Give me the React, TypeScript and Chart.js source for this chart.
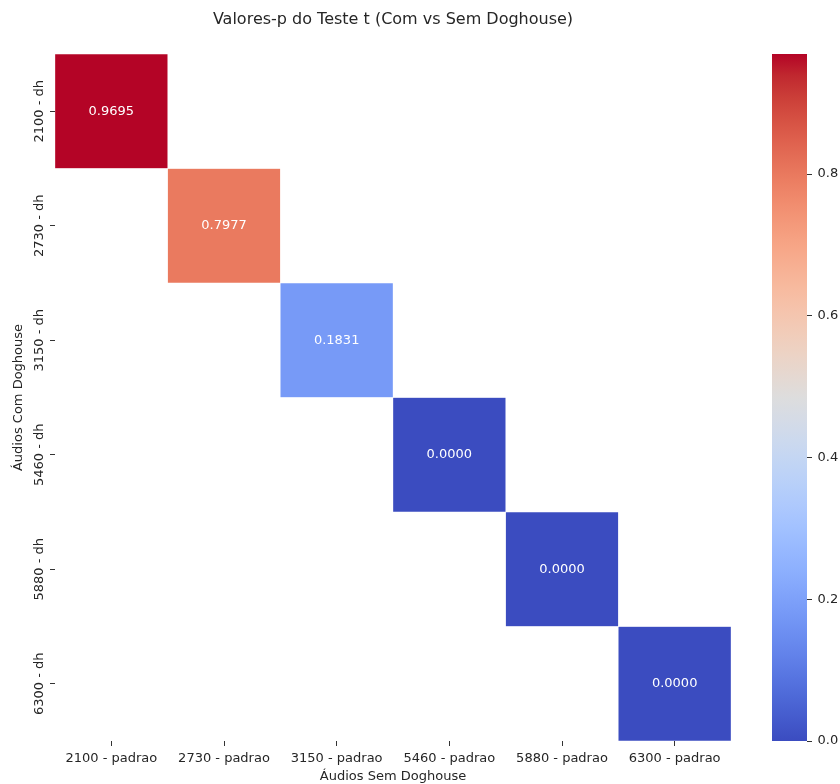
import React, { useEffect, useRef } from 'react';
import { Chart, registerables } from 'chart.js';

Chart.register(...registerables);

// Column categories (audio without doghouse) and row categories (audio with doghouse)
const xLabels = ['2100 - padrao', '2730 - padrao', '3150 - padrao', '5460 - padrao', '5880 - padrao', '6300 - padrao'];
const yLabels = ['2100 - dh', '2730 - dh', '3150 - dh', '5460 - dh', '5880 - dh', '6300 - dh'];

// t-test p-values, one row per "com doghouse" audio; null = pair not compared
const pMatrix: (number | null)[][] = [
  [0.9695, null, null, null, null, null],
  [null, 0.7977, null, null, null, null],
  [null, null, 0.1831, null, null, null],
  [null, null, null, 0.0, null, null],
  [null, null, null, null, 0.0, null],
  [null, null, null, null, null, 0.0],
];

const colorbarTicks = [0, 0.2, 0.4, 0.6, 0.8];

const allValues = pMatrix.flat().filter((v): v is number => v !== null);
const vMin = Math.min(...allValues);
const vMax = Math.max(...allValues);

const FONT = 'DejaVu Sans';
const TEXT = '#262626';

// coolwarm colormap control points: [t, r, g, b]
const COOLWARM: number[][] = [
  [0.0, 59, 76, 192], [0.03125, 68, 90, 204], [0.0625, 77, 104, 215], [0.09375, 87, 117, 225],
  [0.125, 98, 130, 234], [0.15625, 108, 142, 241], [0.1875, 119, 154, 247], [0.21875, 130, 165, 251],
  [0.25, 141, 176, 254], [0.28125, 152, 185, 255], [0.3125, 163, 194, 255], [0.34375, 174, 201, 253],
  [0.375, 184, 208, 249], [0.40625, 194, 213, 244], [0.4375, 204, 217, 238], [0.46875, 213, 219, 230],
  [0.5, 221, 221, 221], [0.53125, 229, 216, 209], [0.5625, 236, 211, 197], [0.59375, 241, 204, 185],
  [0.625, 245, 196, 173], [0.65625, 247, 187, 160], [0.6875, 247, 177, 148], [0.71875, 247, 166, 135],
  [0.75, 244, 154, 123], [0.78125, 241, 141, 111], [0.8125, 236, 127, 99], [0.84375, 229, 112, 88],
  [0.875, 222, 96, 77], [0.90625, 213, 80, 66], [0.9375, 203, 62, 56], [0.96875, 192, 40, 47],
  [1.0, 180, 4, 38],
];

function coolwarm(t: number): string {
  const x = Math.max(0, Math.min(1, t));
  for (let i = 1; i < COOLWARM.length; i++) {
    const a = COOLWARM[i - 1];
    const b = COOLWARM[i];
    if (x <= b[0]) {
      const f = (x - a[0]) / (b[0] - a[0]);
      const c = [1, 2, 3].map((k) => Math.round(a[k] + (b[k] - a[k]) * f));
      return `rgb(${c[0]},${c[1]},${c[2]})`;
    }
  }
  return 'rgb(180,4,38)';
}

const norm = (v: number) => (v - vMin) / (vMax - vMin);

// Rotated row labels beside the left axis ticks, plus the value printed in each cell
const heatmapTextPlugin = {
  id: 'heatmapText',
  afterDraw(chart: any) {
    const { ctx } = chart;
    const yScale = chart.scales.y;
    ctx.save();
    ctx.fillStyle = TEXT;
    ctx.font = `13px "${FONT}"`;
    ctx.textAlign = 'center';
    ctx.textBaseline = 'alphabetic';
    yScale.ticks.forEach((tick: any, i: number) => {
      const py = yScale.getPixelForValue(tick.value);
      ctx.save();
      ctx.translate(yScale.right - 12, py);
      ctx.rotate(-Math.PI / 2);
      ctx.fillText(yLabels[i], 0, 0);
      ctx.restore();
    });

    ctx.fillStyle = '#ffffff';
    ctx.textBaseline = 'middle';
    chart.data.datasets.forEach((ds: any, di: number) => {
      const meta = chart.getDatasetMeta(di);
      meta.data.forEach((bar: any, ci: number) => {
        const v = pMatrix[di][ci];
        if (v === null) return;
        const { x, y } = bar.getCenterPoint();
        ctx.fillText(v.toFixed(4), x, y);
      });
    });
    ctx.restore();
  },
};

// Gradient strip painted through the colorbar's value axis
const colorbarPlugin = {
  id: 'colorbarFill',
  beforeDatasetsDraw(chart: any) {
    const { ctx, chartArea } = chart;
    const s = chart.scales.y;
    const y0 = s.getPixelForValue(vMin);
    const y1 = s.getPixelForValue(vMax);
    const grad = ctx.createLinearGradient(0, y0, 0, y1);
    COOLWARM.forEach((c) => grad.addColorStop(c[0], `rgb(${c[1]},${c[2]},${c[3]})`));
    ctx.save();
    ctx.fillStyle = grad;
    ctx.fillRect(chartArea.left, y1, chartArea.right - chartArea.left, y0 - y1);
    ctx.restore();
  },
};

export default function App() {
  const heatRef = useRef<HTMLCanvasElement>(null);
  const barRef = useRef<HTMLCanvasElement>(null);

  useEffect(() => {
    const tickColor = '#333333';

    const datasets = pMatrix.map((row, r) => ({
      label: yLabels[r],
      data: row.map((v) => (v === null ? null : [r, r + 1])) as any,
      backgroundColor: row.map((v) => (v === null ? 'rgba(0,0,0,0)' : coolwarm(norm(v)))),
      borderColor: '#ffffff',
      borderWidth: 0.5,
      borderSkipped: false as const,
      grouped: false,
      categoryPercentage: 1,
      barPercentage: 1,
    }));

    const heat = new Chart(heatRef.current!, {
      type: 'bar',
      data: { labels: xLabels, datasets },
      plugins: [heatmapTextPlugin],
      options: {
        responsive: false,
        animation: false,
        devicePixelRatio: 1,
        layout: { padding: 0 },
        font: { family: FONT },
        plugins: {
          legend: { display: false },
          tooltip: { enabled: false },
          title: {
            display: true,
            text: 'Valores-p do Teste t (Com vs Sem Doghouse)',
            color: TEXT,
            font: { family: FONT, size: 16, weight: 'normal' },
            padding: { top: 10.5, bottom: 24.3 },
          },
        },
        scales: {
          x: {
            type: 'category',
            offset: true,
            grid: { display: true, drawOnChartArea: false, drawTicks: true, tickLength: 5, color: tickColor, offset: false },
            border: { display: false },
            ticks: { color: TEXT, font: { family: FONT, size: 13 }, padding: 4.5, maxRotation: 0, autoSkip: false },
            title: {
              display: true,
              text: 'Áudios Sem Doghouse',
              color: TEXT,
              font: { family: FONT, size: 13 },
              padding: { top: 0, bottom: -0.5 },
            },
            afterFit: (s: any) => { s.height = 43; },
          },
          y: {
            type: 'linear',
            position: 'left',
            reverse: true,
            min: 0,
            max: yLabels.length,
            afterBuildTicks: (s: any) => { s.ticks = yLabels.map((_, i) => ({ value: i + 0.5 })); },
            grid: { display: true, drawOnChartArea: false, drawTicks: true, tickLength: 5, color: tickColor },
            border: { display: false },
            ticks: { callback: () => '', font: { family: FONT, size: 13 } },
            title: {
              display: true,
              text: 'Áudios Com Doghouse',
              color: TEXT,
              font: { family: FONT, size: 13 },
              padding: { top: 10.5, bottom: 0 },
            },
            afterFit: (s: any) => { s.width = 55; },
          },
          spacer: {
            type: 'linear',
            position: 'right',
            display: true,
            grid: { display: false },
            border: { display: false },
            ticks: { display: false },
            afterFit: (s: any) => { s.width = 55; },
          },
        },
      } as any,
    });

    const bar = new Chart(barRef.current!, {
      type: 'bar',
      data: { labels: [''], datasets: [] },
      plugins: [colorbarPlugin],
      options: {
        responsive: false,
        animation: false,
        devicePixelRatio: 1,
        layout: { padding: { left: 12, top: 54, bottom: 43, right: 0 } },
        plugins: { legend: { display: false }, tooltip: { enabled: false }, title: { display: false } },
        scales: {
          x: { display: false },
          y: {
            type: 'linear',
            position: 'right',
            min: vMin,
            max: vMax,
            afterBuildTicks: (s: any) => { s.ticks = colorbarTicks.map((v) => ({ value: v })); },
            grid: { display: true, drawOnChartArea: false, drawTicks: true, tickLength: 5, color: tickColor },
            border: { display: false },
            ticks: {
              color: TEXT,
              font: { family: FONT, size: 13 },
              padding: 5.5,
              callback: (v: any) => Number(v).toFixed(1),
            },
            afterFit: (s: any) => { s.width = 33; },
          },
        },
      } as any,
    });

    return () => {
      heat.destroy();
      bar.destroy();
    };
  }, []);

  return (
    <div style={{ position: 'fixed', left: 0, top: 0, width: 840, height: 784, background: '#ffffff' }}>
      <div style={{ position: 'absolute', left: 0, top: 0 }}>
        <canvas ref={heatRef} width={786} height={784} style={{ display: 'block' }} />
      </div>
      <div style={{ position: 'absolute', left: 760, top: 0 }}>
        <canvas ref={barRef} width={80} height={784} style={{ display: 'block' }} />
      </div>
    </div>
  );
}
